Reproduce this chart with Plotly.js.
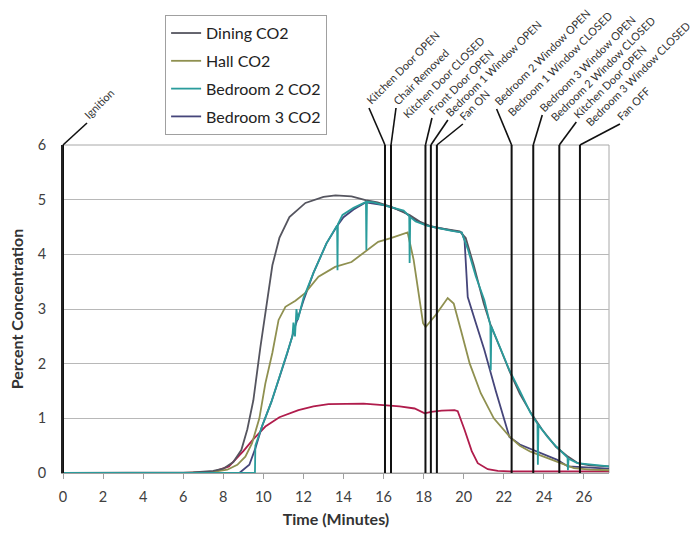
<!DOCTYPE html>
<html><head><meta charset="utf-8">
<script src="https://cdn.plot.ly/plotly-3.0.1.min.js"></script>
<style>body{margin:0;background:#fff}#chart{width:695px;height:542px}</style>
</head><body><div id="chart"></div>
<script>
// ---- data (minutes, percent) ----
const diningT = [0,5,6.5,7.5,8.0,8.5,8.9,9.2,9.5,9.85,10.2,10.45,10.8,11.3,12.1,13.0,13.6,14.4,15.1,15.7,16.3,16.8,17.3,17.8,18.3,18.8,19.3,19.8,20.1,20.5,21.0,21.35,21.8,22.3,22.8,23.35,23.9,24.6,25.2,25.7,26.3,27.25];
const diningY = [0,0,0.01,0.04,0.08,0.2,0.42,0.8,1.33,2.3,3.16,3.8,4.3,4.68,4.94,5.05,5.08,5.06,4.99,4.95,4.88,4.8,4.72,4.6,4.52,4.48,4.45,4.42,4.3,3.8,3.1,2.7,2.3,1.85,1.45,1.1,0.8,0.48,0.3,0.18,0.14,0.12];

const hallT = [0,6,7.5,8.2,8.7,9.1,9.43,9.8,10.1,10.45,10.76,11.1,11.6,12.08,12.75,13.58,14.4,15.07,15.73,16.4,17.0,17.2,17.5,17.97,18.1,18.6,19.2,19.5,19.86,20.3,20.85,21.5,22.3,22.8,23.33,24.0,24.67,25.5,26.3,27.25];
const hallY = [0,0,0.02,0.06,0.15,0.3,0.54,1.0,1.64,2.2,2.8,3.04,3.15,3.29,3.59,3.77,3.86,4.05,4.23,4.3,4.38,4.4,3.9,2.74,2.67,2.89,3.2,3.1,2.61,2.0,1.46,1.0,0.66,0.5,0.39,0.3,0.21,0.09,0.06,0.05];

const bed2T = [0,9.5,9.58,9.6,9.93,10.4,10.76,11.2,11.45,11.5,11.58,11.65,11.72,12.0,12.5,13.15,13.68,13.7,13.72,13.95,14.5,15.12,15.14,15.17,15.5,16.0,16.5,17.0,17.28,17.3,17.33,17.6,18.2,18.8,19.4,19.9,20.2,20.6,21.03,21.33,21.35,21.38,21.8,22.28,22.8,23.33,23.68,23.7,23.73,24.2,24.63,25.0,25.18,25.2,25.23,25.67,26.2,26.7,27.25];
const bed2Y = [0,0,0,0.5,0.85,1.3,1.7,2.2,2.5,2.75,2.5,3.0,2.8,3.2,3.66,4.2,4.53,3.71,4.55,4.72,4.85,4.96,4.08,4.96,4.95,4.9,4.85,4.8,4.7,3.84,4.68,4.6,4.52,4.47,4.43,4.4,4.1,3.6,3.16,2.7,1.88,2.68,2.3,1.88,1.5,1.1,0.9,0.15,0.88,0.65,0.48,0.35,0.28,0.05,0.26,0.18,0.16,0.14,0.12];

const bed3T = [0,8.8,9.3,9.6,9.93,10.4,10.76,11.2,11.6,12.0,12.5,13.15,13.7,14.0,14.5,15.1,15.5,16.0,16.5,17.0,17.5,18.0,18.5,19.0,19.5,19.9,20.04,20.2,20.6,21.03,21.6,22.28,22.8,23.5,24.1,24.67,25.2,26.0,27.25];
const bed3Y = [0,0,0.15,0.45,0.85,1.3,1.7,2.2,2.7,3.15,3.66,4.2,4.53,4.68,4.82,4.95,4.93,4.9,4.85,4.78,4.65,4.55,4.5,4.46,4.43,4.4,4.26,3.22,2.75,2.25,1.5,0.66,0.52,0.42,0.32,0.24,0.12,0.1,0.08];

const otherT = [0,6,7.5,8.28,9.0,9.5,10.1,10.8,11.75,12.5,13.25,14,15,15.98,16.8,17.55,18.05,18.37,18.9,19.54,19.7,20.04,20.4,20.7,21.2,21.7,22.28,23.5,25,27.25];
const otherY = [0,0,0.02,0.12,0.4,0.62,0.85,1.02,1.15,1.22,1.26,1.27,1.27,1.24,1.22,1.18,1.09,1.12,1.14,1.15,1.13,0.79,0.4,0.18,0.07,0.04,0.03,0.03,0.03,0.03];

// events
const eventNames = ["Ignition","Kitchen Door OPEN","Chair Removed","Kitchen Door CLOSED","Front Door OPEN","Bedroom 1 Window OPEN","Fan ON","Bedroom 2 Window OPEN","Bedroom 1 Window CLOSED","Bedroom 3 Window OPEN","Bedroom 2 Window CLOSED","Kitchen Door OPEN","Bedroom 3 Window CLOSED","Fan OFF"];
const eventTimes = [0,16.07,16.37,17.9,18.09,18.36,18.66,22.39,22.9,23.47,24.2,24.77,25.3,25.8];
const eventHasLine = [1,1,1,0,1,1,1,1,0,1,0,1,0,1];

const xTickVals = [0,2,4,6,8,10,12,14,16,18,20,22,24,26];
const yTickVals = [0,1,2,3,4,5,6];
const xRange = [0,27.25];
const yRange = [0,6];

// ---- layout helpers (pixel offsets of label start from top of event line) ----
const labelDX = [25,-15,6,-15,7.5,18,27,-14,-10,10,7,18,20,41];
const labelDY = [-24,-39,-39,-25,-29,-27,-23,-38,-27,-32,-22,-25,-17,-23];

const FONT = 'Lato, "Open Sans", sans-serif';

function tr(name, t, y, color, rank, show) {
  return {type:'scatter', mode:'lines', name:name, x:t, y:y,
    line:{color:color, width:1.8}, legendrank:rank, showlegend:show, legendgroup:name};
}
const traces = [
  tr('Other', otherT, otherY, '#b01c4c', 5, false),
  tr('Bedroom 3 CO2', bed3T, bed3Y, '#45457a', 4, true),
  tr('Hall CO2', hallT, hallY, '#8f9050', 2, true),
  tr('Dining CO2', diningT, diningY, '#55555f', 1, true),
  tr('Bedroom 2 CO2', bed2T, bed2Y, '#2a9c9c', 3, true)
];

const shapes = [{type:'rect', xref:'paper', yref:'paper', x0:0, x1:1, y0:0, y1:1,
  line:{color:'#a8a8a8', width:1}, layer:'below'}];
const annotations = [];
eventTimes.forEach(function(t, i) {
  if (eventHasLine[i]) {
    shapes.push({type:'line', xref:'x', yref:'y', x0:t, x1:t, y0:yRange[0], y1:yRange[1],
      line:{color:'#111', width:2}});
    // leader from top of event line to label (paper ref so it is not clipped)
    shapes.push({type:'line', xref:'paper', yref:'paper',
      xsizemode:'pixel', ysizemode:'pixel',
      xanchor:(t - xRange[0]) / (xRange[1] - xRange[0]), yanchor:1,
      x0:0, y0:0, x1:labelDX[i]-1, y1:-(labelDY[i]+2),
      line:{color:'#111', width:1.6}});
  }
  annotations.push({x:t, y:yRange[1], xref:'x', yref:'y', text:eventNames[i], showarrow:false,
    textangle:-45, xanchor:'left', yanchor:'bottom',
    xshift:labelDX[i]-9.4, yshift:-(labelDY[i]+3.5),
    font:{family:FONT, size:11, color:'#333'}});
});

const layout = {
  width:695, height:542,
  margin:{l:63, r:86, t:145, b:69},
  paper_bgcolor:'#fff', plot_bgcolor:'#fff',
  font:{family:FONT, color:'#404040'},
  showlegend:true,
  legend:{x:0.187, y:1.396, xanchor:'left', yanchor:'top', bgcolor:'#fff',
    bordercolor:'#a0a0a0', borderwidth:1, tracegroupgap:4,
    font:{family:FONT, size:16, color:'#222'}},
  xaxis:{range:xRange, tickvals:xTickVals, ticktext:xTickVals.map(String),
    ticks:'outside', ticklen:5, tickcolor:'#a0a0a0', showgrid:false, zeroline:false,
    showline:true, linecolor:'#a0a0a0', linewidth:1,
    tickfont:{family:FONT, size:14.5, color:'#404040'}, ticklabelstandoff:6,
    title:{text:'<b>Time (Minutes)</b>', font:{family:FONT, size:16, color:'#333'}, standoff:9}},
  yaxis:{range:yRange, tickvals:yTickVals, ticktext:yTickVals.map(String),
    showgrid:true, gridcolor:'#b8b8b8', gridwidth:1, zeroline:false,
    showline:true, linecolor:'#222', linewidth:2, ticks:'',
    tickfont:{family:FONT, size:14.5, color:'#404040'}, ticklabelstandoff:12,
    title:{text:'<b>Percent Concentration</b>', font:{family:FONT, size:16, color:'#333'}, standoff:10}},
  shapes:shapes,
  annotations:annotations
};

Plotly.newPlot('chart', traces, layout, {displayModeBar:false, staticPlot:true});
</script></body></html>
